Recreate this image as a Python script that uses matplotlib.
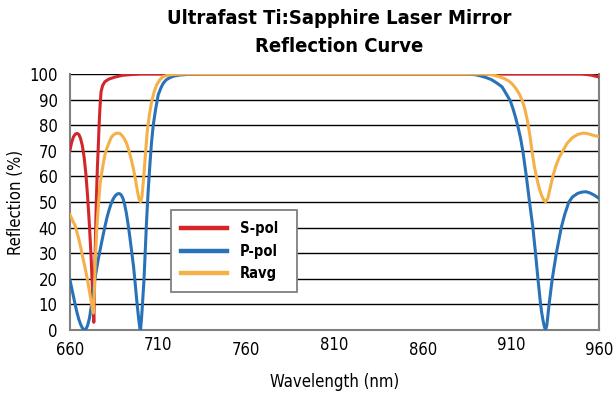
import matplotlib
matplotlib.use("Agg")
import matplotlib.pyplot as plt
from matplotlib import font_manager
from matplotlib.transforms import ScaledTranslation

# ---------------- data ----------------
s_wl = [660, 661, 662, 663, 664, 665, 666, 667, 668, 669, 670, 671, 672, 672.8, 673.5,
        674, 674.5, 675, 675.5, 676, 676.5, 677, 677.6, 678.5, 679.8, 682, 685.5, 690,
        695, 700, 950, 953, 956, 960]
s_pol = [70.3, 73.5, 75.5, 76.5, 76.8, 76.4, 74.8, 72, 67.5, 61, 52, 41, 28, 15, 3,
         20, 38, 52, 63, 71, 80, 87, 93, 95.5, 97, 98, 98.8, 99.5,
         99.8, 100, 100, 99.8, 99.5, 98.8]

p_wl = [660, 661, 662, 663, 664, 665, 666, 667, 668, 668.5, 669, 670, 671, 672, 673,
        674, 675, 676, 677, 678, 679, 680, 681, 682, 683, 684, 685, 686, 687, 688,
        689, 690, 691, 692, 693, 694, 695, 696, 697, 698, 699, 699.7, 700, 700.5,
        701, 701.9, 702.5, 703.4, 704.3, 705.3, 706.2, 707.2, 708.5, 710, 711.5,
        712.9, 714.5, 716.7, 719, 722.3, 728, 735, 885, 890, 893, 896, 899, 902,
        905, 907, 909.7, 911.2, 912.7, 914, 915.5, 916.9, 918.7, 920.6, 922.5, 924,
        925.3, 926.8, 927.5, 928.3, 929, 929.7, 930.4, 931, 931.6, 933.5, 935.8,
        938.6, 940.5, 942.9, 945, 948, 950.5, 952.7, 955, 957.5, 960]
p_pol = [19.5, 16.2, 13, 9.7, 6.7, 4.2, 2.2, 0.8, 0.1, 0, 0.3, 1.8, 4.5, 8.8, 14,
         19.5, 23.5, 27.5, 31, 34.5, 37.8, 41, 44, 46.5, 48.7, 50.5, 51.8, 52.7, 53.2, 53.3,
         52.8, 51.5, 49, 45.5, 41, 36, 30.5, 25, 18, 10.5, 4, 0.3, 0, 4,
         9, 18.9, 28, 42.3, 54, 64.5, 73, 80, 86, 91.8, 94.5,
         96.4, 97.7, 98.6, 99.2, 99.6, 99.9, 100, 100, 99.7, 99.2, 98.6, 97.8, 96.5,
         95, 92.7, 89.5, 86.5, 83, 79.5, 75, 69.5, 60.5, 50, 40, 30,
         20.5, 10.5, 6.8, 3.6, 1.3, 0, 1.8, 5.5, 9.5, 20, 30,
         40, 45, 50, 52, 53.4, 53.9, 54, 53.5, 52.6, 51.4]

r_wl = [660, 661, 662, 662.8, 664, 665, 666, 666.6, 667.5, 668.5, 669.5, 670.4, 671.3,
        672.2, 673.2, 673.8, 674.3, 675.1, 676, 677, 678, 679, 679.8, 681, 682.3,
        683.6, 685, 686.5, 688.3, 689.5, 690.8, 692.1, 693.3, 694.6, 695.9, 697.3,
        698.3, 699.2, 700, 700.8, 701.9, 702.8, 703.8, 705, 706.3, 707.7, 709.1, 711,
        712.9, 716, 718.5, 725, 895, 900, 903, 906, 909, 911.2, 913, 914.8, 916.5,
        918, 919.5, 920.8, 922.1, 923.3, 924.4, 925.5, 926.5, 927.5, 928.5, 929.7,
        931, 932.5, 933.8, 935.5, 937.5, 939.5, 942, 945, 948, 951, 953, 956, 960]
r_avg = [45, 43.5, 42, 41, 38, 35.5, 32.5, 30.6, 27.5, 24.5, 21, 17.6, 14,
         10.5, 6.6, 15, 26, 38.4, 48, 56.6, 61.5, 65.5, 68.4, 71.2, 73.5,
         75.5, 76.4, 76.9, 76.8, 76, 74.7, 72.9, 70.3, 67, 63.2, 58,
         54, 51, 50.1, 52, 60.5, 69, 77.5, 84, 89.2, 93, 95.7, 97.8,
         99, 99.6, 99.8, 100, 100, 99.6, 99, 98.3, 97.2, 95.8, 94.2, 92.2, 89.6,
         86.2, 81.5, 76, 69.5, 64, 60.3, 57, 54.5, 52.5, 51, 50.1,
         51.5, 56, 60, 64, 67.5, 70, 73, 75.2, 76.4, 76.9, 76.8, 76.2, 75.5]

x_ticks = [660, 710, 760, 810, 860, 910, 960]
y_ticks = [0, 10, 20, 30, 40, 50, 60, 70, 80, 90, 100]
series_names = ["S-pol", "P-pol", "Ravg"]

# ---------------- fonts ----------------
names = {f.name for f in font_manager.fontManager.ttflist}
if "Liberation Sans Narrow" in names:
    FONT = "Liberation Sans Narrow"
    STRETCH = "normal"
else:
    FONT = "DejaVu Sans"
    STRETCH = "condensed"
plt.rcParams["font.family"] = [FONT, "DejaVu Sans"]
plt.rcParams["font.stretch"] = STRETCH

RED = "#d3262b"
BLUE = "#2a72b8"
ORANGE = "#f6b048"

fig = plt.figure(figsize=(6.16, 3.98), dpi=100)
ax = fig.add_axes([70 / 616, 1 - 330 / 398, 529 / 616, 256 / 398])

l1, = ax.plot(s_wl, s_pol, color=RED, lw=2.2, zorder=3, solid_joinstyle="round")
l2, = ax.plot(p_wl, p_pol, color=BLUE, lw=2.2, zorder=4, solid_joinstyle="round")
l3, = ax.plot(r_wl, r_avg, color=ORANGE, lw=2.2, zorder=5, solid_joinstyle="round")

ax.set_xlim(660, 960)
ax.set_ylim(0, 100)
ax.set_xticks(x_ticks)
ax.set_yticks(y_ticks)
ax.set_xticklabels([str(v) for v in x_ticks])
ax.set_yticklabels([str(v) for v in y_ticks])
ax.yaxis.grid(True, color="black", lw=1.0, zorder=1)
ax.set_axisbelow(True)
ax.tick_params(axis="both", length=0, labelsize=12)
ax.tick_params(axis="y", pad=9)
ax.tick_params(axis="x", pad=8)

for side in ["left", "right", "bottom"]:
    ax.spines[side].set_color("#808080")
    ax.spines[side].set_linewidth(1.5)
ax.spines["top"].set_visible(False)

# stagger odd x tick labels upward slightly
for i, lab in enumerate(ax.get_xticklabels()):
    if i % 2 == 1:
        lab.set_transform(lab.get_transform() + ScaledTranslation(0, 3.5 / 72, fig.dpi_scale_trans))

ax.set_xlabel("Wavelength (nm)", fontsize=12)
ax.set_ylabel("Reflection (%)", fontsize=12)
ax.xaxis.set_label_coords(0.5, -0.168)
ax.yaxis.set_label_coords(-0.085, 0.5)

leg = ax.legend([l1, l2, l3], series_names, loc="lower left",
                bbox_to_anchor=(0.19, 0.147, 0.24, 0.311), mode="expand",
                borderaxespad=0,
                frameon=True, fancybox=False, framealpha=1, edgecolor="#808080",
                prop={"weight": "bold", "size": 10.5}, handlelength=3.1,
                handletextpad=0.9, labelspacing=0.52, borderpad=0.75)
leg.get_frame().set_linewidth(1.3)
for h in leg.get_lines():
    h.set_linewidth(3.2)
leg.set_zorder(10)

fig.text(339 / 616, 1 - 18 / 398, "Ultrafast Ti:Sapphire Laser Mirror",
         ha="center", va="center", fontsize=14.5, fontweight="bold")
fig.text(339 / 616, 1 - 47 / 398, "Reflection Curve",
         ha="center", va="center", fontsize=14.5, fontweight="bold")

fig.savefig("out.png", dpi=100)
